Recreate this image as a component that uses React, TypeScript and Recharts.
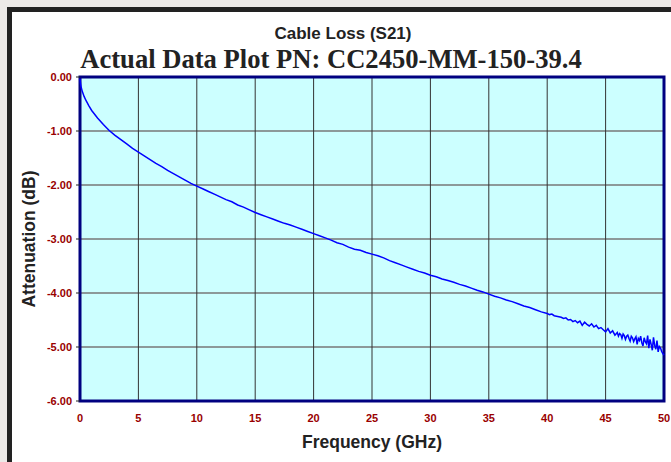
import {
  CartesianGrid,
  Line,
  LineChart,
  ReferenceArea,
  XAxis,
  YAxis,
} from 'recharts'

const FREQ = [
  0, 0.05, 0.1, 0.2, 0.35, 0.5, 0.75, 1, 1.5, 2, 2.5, 3, 3.5, 4, 4.5, 5, 5.5, 6, 6.5, 7, 7.5,
  8, 8.5, 9, 9.5, 10, 10.5, 11, 11.5, 12, 12.5, 13, 13.5, 14, 14.5, 15, 15.5, 16, 16.5,
  17, 17.5, 18, 18.5, 19, 19.5, 20, 20.5, 21, 21.5, 22, 22.5, 23, 23.5, 24, 24.5, 25,
  25.5, 26, 26.5, 27, 27.5, 28, 28.5, 29, 29.5, 30, 30.5, 31, 31.5, 32, 32.5, 33, 33.5,
  34, 34.5, 35, 35.5, 36, 36.5, 37, 37.5, 38, 38.5, 39, 39.5,
  40, 40.2, 40.4, 40.6, 40.8, 41, 41.2, 41.4, 41.6, 41.8, 42, 42.2, 42.4, 42.6, 42.8,
  43, 43.2, 43.4, 43.6, 43.8, 44, 44.2, 44.4, 44.6, 44.8, 45, 45.2, 45.4, 45.6, 45.8,
  46, 46.1, 46.2, 46.3, 46.4, 46.5, 46.6, 46.7, 46.8, 46.9, 47, 47.1, 47.2, 47.3, 47.4,
  47.5, 47.6, 47.7, 47.8, 47.9, 48, 48.1, 48.2, 48.3, 48.4, 48.5, 48.6, 48.7, 48.8,
  48.9, 49, 49.1, 49.2, 49.3, 49.4, 49.5, 49.6, 49.7, 49.8, 49.9, 50,
]

const LOSS = [
  -0.03, -0.13, -0.19, -0.27, -0.36, -0.43, -0.53, -0.62, -0.76, -0.88, -0.99, -1.08,
  -1.16, -1.24, -1.32, -1.39, -1.46, -1.53, -1.6, -1.66, -1.73, -1.79, -1.85, -1.91,
  -1.97, -2.02, -2.07, -2.12, -2.17, -2.22, -2.27, -2.31, -2.37, -2.41, -2.46, -2.51,
  -2.55, -2.59, -2.63, -2.67, -2.71, -2.74, -2.78, -2.82, -2.86, -2.9, -2.94, -2.98,
  -3.02, -3.07, -3.1, -3.15, -3.19, -3.21, -3.25, -3.28, -3.31, -3.35, -3.4, -3.44,
  -3.48, -3.52, -3.56, -3.6, -3.63, -3.67, -3.7, -3.74, -3.77, -3.8, -3.84, -3.87,
  -3.91, -3.95, -3.98, -4.02, -4.06, -4.09, -4.13, -4.16, -4.2, -4.24, -4.27, -4.31,
  -4.35,
  -4.38, -4.4, -4.39, -4.42, -4.43, -4.44, -4.45, -4.47, -4.46, -4.5, -4.49, -4.53,
  -4.51, -4.55, -4.52, -4.6, -4.54, -4.58, -4.61, -4.57, -4.63, -4.6, -4.66, -4.64,
  -4.68, -4.72, -4.66, -4.74, -4.7, -4.78,
  -4.73, -4.8, -4.75, -4.77, -4.84, -4.76, -4.79, -4.86, -4.8, -4.78, -4.84, -4.89,
  -4.8, -4.83, -4.9, -4.85, -4.81, -4.95, -4.84, -4.88, -4.8, -4.92, -4.98, -4.83,
  -4.9, -4.94, -4.79, -5.02, -4.86, -4.95, -5.06, -4.82, -4.97, -5.04, -4.88, -5.09,
  -4.99, -5.02, -5.08, -5.12, -5.15, -5.19,
]

const X_TICKS = [0, 5, 10, 15, 20, 25, 30, 35, 40, 45, 50]
const Y_TICKS = [0, -1, -2, -3, -4, -5, -6]

const data = FREQ.map((f, i) => ({ f, loss: LOSS[i] }))

const SANS = '"Liberation Sans", Arial, sans-serif'
const SERIF = '"Liberation Serif", "Times New Roman", serif'
const TICK = { fill: '#990000', fontSize: 11, fontWeight: 700, fontFamily: SANS }

export default function App() {
  return (
    <div
      style={{
        position: 'absolute',
        left: 0,
        top: 0,
        width: 671,
        height: 462,
        overflow: 'hidden',
        background: '#eceae8',
      }}
    >
      <div
        style={{
          position: 'absolute',
          left: 7,
          top: 7,
          width: 700,
          height: 450,
          background: '#fff',
          border: '5px solid #222',
          borderRight: 'none',
          borderBottom: '2px solid #222',
        }}
      />
      <div
        style={{
          position: 'absolute',
          left: 0,
          width: 686,
          top: 24,
          textAlign: 'center',
          fontFamily: SANS,
          fontWeight: 700,
          fontSize: 17,
          color: '#222',
        }}
      >
        Cable Loss (S21)
      </div>
      <div
        style={{
          position: 'absolute',
          left: 0,
          width: 662,
          top: 44,
          textAlign: 'center',
          fontFamily: SERIF,
          fontWeight: 700,
          fontSize: 26.6,
          color: '#222',
          whiteSpace: 'nowrap',
        }}
      >
        Actual Data Plot PN: CC2450-MM-150-39.4
      </div>
      <div style={{ position: 'absolute', left: 0, top: 0 }}>
        <LineChart
          width={671}
          height={462}
          data={data}
          margin={{ top: 77, right: 7, bottom: 0, left: 0 }}
        >
          <CartesianGrid
            vertical={false}
            fill="#ccffff"
            stroke="#777"
            strokeWidth={1.5}
            strokeOpacity={1}
          />
          <CartesianGrid horizontal={false} stroke="#333" strokeWidth={1} />
          <XAxis
            dataKey="f"
            type="number"
            domain={[0, 50]}
            ticks={X_TICKS}
            tick={TICK}
            tickLine={false}
            axisLine={false}
            tickMargin={7}
            height={61}
            interval={0}
            label={{
              value: 'Frequency (GHz)',
              position: 'insideBottom',
              offset: 14,
              fill: '#222',
              fontSize: 17.5,
              fontWeight: 700,
              fontFamily: SANS,
            }}
          />
          <YAxis
            type="number"
            domain={[-6, 0]}
            ticks={Y_TICKS}
            tick={TICK}
            tickFormatter={(v: number) => v.toFixed(2)}
            tickLine={{ stroke: '#222' }}
            tickSize={4}
            tickMargin={4}
            axisLine={false}
            width={80}
            interval={0}
            label={{
              value: 'Attenuation (dB)',
              angle: -90,
              position: 'insideLeft',
              offset: 29,
              style: { textAnchor: 'middle' },
              fill: '#222',
              fontSize: 17.5,
              fontWeight: 700,
              fontFamily: SANS,
            }}
          />
          <Line
            type="linear"
            dataKey="loss"
            stroke="#0000ff"
            strokeWidth={1.5}
            dot={false}
            isAnimationActive={false}
          />
          <ReferenceArea
            x1={0}
            x2={50}
            y1={-6}
            y2={0}
            fill="none"
            stroke="#000080"
            strokeWidth={3}
            ifOverflow="visible"
          />
        </LineChart>
      </div>
    </div>
  )
}
